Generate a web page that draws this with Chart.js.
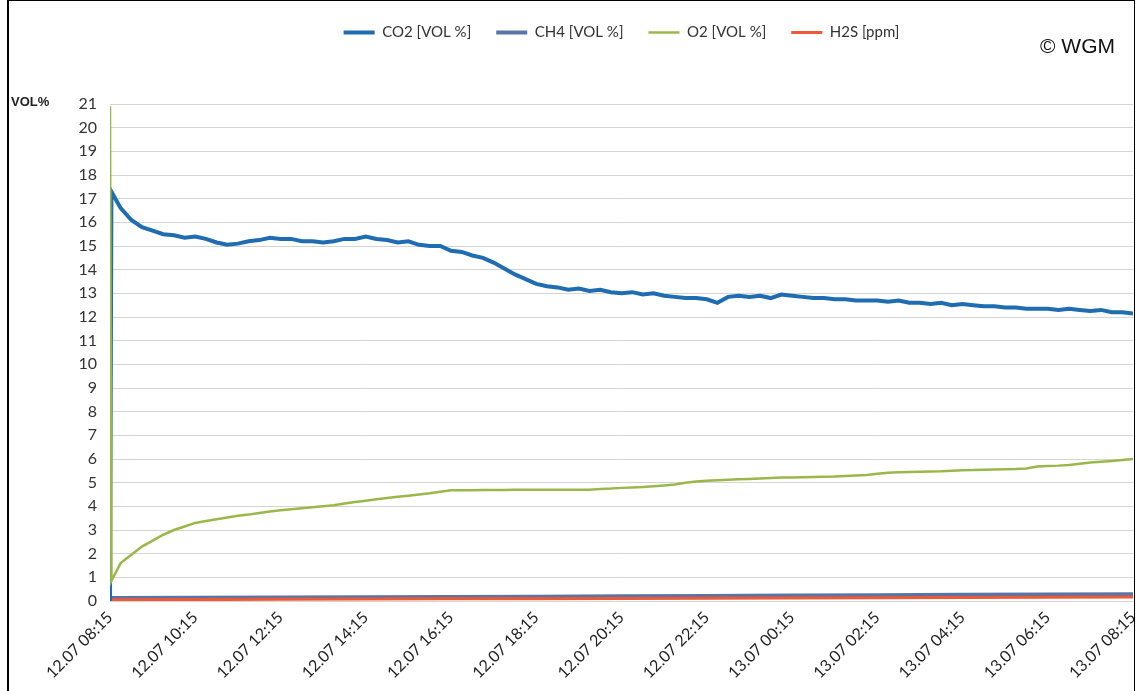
<!DOCTYPE html>
<html>
<head>
<meta charset="utf-8">
<script src="https://cdn.jsdelivr.net/npm/chart.js@4.4.1/dist/chart.umd.min.js"></script>
<style>
  html, body { margin: 0; padding: 0; background: #fff; }
  #wrap { position: relative; width: 1136px; height: 691px; overflow: hidden; }
  #c { position: absolute; left: 0; top: 0; }
  #frame { position: absolute; left: 7px; top: 0; width: 1128px; height: 700px; border-left: 2px solid #000; border-top: 1px solid #000; border-right: 1px solid #000; box-sizing: border-box; pointer-events: none; }
  #unit { position: absolute; left: 11px; top: 94px; font: bold 13px "Liberation Sans", Arial, sans-serif; color: #222; }
  #copy { position: absolute; left: 1040px; top: 34px; font: 21px "Liberation Sans", Arial, sans-serif; color: #111; }
</style>
</head>
<body>
<div id="wrap">
  <canvas id="c" width="1136" height="691"></canvas>
  <div id="frame"></div>
  <div id="unit">VOL%</div>
  <div id="copy">© WGM</div>
</div>
<script>
// ---- data (minutes since 12.07 08:15) ----
const xTickLabels = ["12.07 08:15","12.07 10:15","12.07 12:15","12.07 14:15","12.07 16:15","12.07 18:15","12.07 20:15","12.07 22:15","13.07 00:15","13.07 02:15","13.07 04:15","13.07 06:15","13.07 08:15"];
const yTicks = [0,1,2,3,4,5,6,7,8,9,10,11,12,13,14,15,16,17,18,19,20,21];

const sampleMinutes = [0,2,15,30,45,60,75,90,105,120,135,150,165,180,195,210,225,240,255,270,285,300,315,330,345,360,375,390,405,420,435,450,465,480,495,510,525,540,555,570,585,600,615,630,645,660,675,690,705,720,735,750,765,780,795,810,825,840,855,870,885,900,915,930,945,960,975,990,1005,1020,1035,1050,1065,1080,1095,1110,1125,1140,1155,1170,1185,1200,1215,1230,1245,1260,1275,1290,1305,1320,1335,1350,1365,1380,1395,1410,1425,1440];

const co2 = [0,17.3,
  16.6,16.1,15.8,15.65,15.5,15.45,15.35,15.4,15.3,15.15,
  15.05,15.1,15.2,15.25,15.35,15.3,15.3,15.2,15.2,15.15,
  15.2,15.3,15.3,15.4,15.3,15.25,15.15,15.2,15.05,15.0,
  15.0,14.8,14.75,14.6,14.5,14.3,14.05,13.8,13.6,13.4,
  13.3,13.25,13.15,13.2,13.1,13.15,13.05,13.0,13.05,12.95,
  13.0,12.9,12.85,12.8,12.8,12.75,12.6,12.85,12.9,12.85,
  12.9,12.8,12.95,12.9,12.85,12.8,12.8,12.75,12.75,12.7,
  12.7,12.7,12.65,12.7,12.6,12.6,12.55,12.6,12.5,12.55,
  12.5,12.45,12.45,12.4,12.4,12.35,12.35,12.35,12.3,12.35,
  12.3,12.25,12.3,12.2,12.2,12.15];

const o2 = [20.9,0.85,
  1.6,1.95,2.3,2.55,2.8,3.0,3.15,3.3,3.38,3.45,
  3.53,3.6,3.65,3.72,3.78,3.83,3.88,3.92,3.96,4.0,
  4.05,4.12,4.18,4.24,4.3,4.35,4.4,4.45,4.5,4.55,
  4.62,4.68,4.68,4.68,4.69,4.69,4.69,4.7,4.7,4.7,
  4.7,4.7,4.7,4.7,4.7,4.73,4.75,4.78,4.8,4.82,
  4.85,4.88,4.92,5.0,5.05,5.08,5.1,5.12,5.14,5.16,
  5.18,5.2,5.22,5.22,5.23,5.24,5.25,5.26,5.28,5.3,
  5.32,5.38,5.42,5.44,5.45,5.46,5.47,5.48,5.5,5.52,
  5.53,5.55,5.56,5.57,5.58,5.6,5.68,5.7,5.72,5.75,
  5.8,5.85,5.88,5.92,5.96,6.0];

const slowMinutes = [0,120,240,360,480,600,720,840,960,1080,1200,1320,1440];
const ch4 = [0.13,0.14,0.15,0.16,0.17,0.18,0.2,0.21,0.23,0.24,0.26,0.27,0.29];
const h2s = [0.05,0.06,0.07,0.08,0.09,0.1,0.11,0.12,0.13,0.14,0.15,0.16,0.17];

const seriesNames = ["CO2 [VOL %]","CH4 [VOL %]","O2 [VOL %]","H2S [ppm]"];

function pts(xs, ys) { return xs.map((x, i) => ({ x: x, y: ys[i] })); }

const font = "Lato, 'Open Sans', sans-serif";

const legendSpace = {
  id: 'legendSpace',
  beforeInit(chart) {
    const fit = chart.legend.fit;
    chart.legend.fit = function () { fit.call(this); this.height = 104; };
  }
};

new Chart(document.getElementById('c'), {
  type: 'line',
  data: {
    datasets: [
      { label: seriesNames[0], data: pts(sampleMinutes, co2), borderColor: '#1f6cb0', backgroundColor: '#1f6cb0', borderWidth: 4, order: 2 },
      { label: seriesNames[1], data: pts(slowMinutes, ch4), borderColor: '#5a74a6', backgroundColor: '#5a74a6', borderWidth: 4, order: 4 },
      { label: seriesNames[2], data: pts(sampleMinutes, o2), borderColor: '#9ab84a', backgroundColor: '#9ab84a', borderWidth: 2.5, order: 1 },
      { label: seriesNames[3], data: pts(slowMinutes, h2s), borderColor: '#ee5a36', backgroundColor: '#ee5a36', borderWidth: 3, order: 3 }
    ]
  },
  plugins: [legendSpace],
  options: {
    responsive: false,
    animation: false,
    devicePixelRatio: 1,
    elements: { point: { radius: 0 }, line: { tension: 0 } },
    layout: { padding: { top: 0, right: 3, left: 0, bottom: 0 } },
    plugins: {
      tooltip: { enabled: false },
      legend: {
        position: 'top',
        fullSize: false,
        labels: {
          usePointStyle: true,
          pointStyle: 'line',
          pointStyleWidth: 31,
          padding: 25,
          color: '#333',
          font: { family: font, size: 15 },
          sort: (a, b) => a.datasetIndex - b.datasetIndex
        }
      }
    },
    scales: {
      x: {
        type: 'linear',
        min: 0, max: 1440,
        afterFit: (s) => { s.height = 90; s.paddingRight = 0; },
        grid: { display: false, drawTicks: false },
        border: { display: false },
        ticks: {
          stepSize: 120,
          autoSkip: false,
          maxRotation: 45, minRotation: 45,
          padding: 7,
          color: '#222',
          font: { family: font, size: 16 },
          callback: (v) => xTickLabels[Math.round(v / 120)]
        }
      },
      y: {
        min: 0, max: 21,
        afterFit: (s) => { s.width = 110; },
        afterBuildTicks: (s) => { s.ticks = yTicks.map(v => ({ value: v })); },
        grid: { color: '#d4d4d4', lineWidth: 1, drawTicks: false },
        border: { display: false },
        ticks: { padding: 13, color: '#333', font: { family: font, size: 16 } }
      }
    }
  }
});
</script>
</body>
</html>
